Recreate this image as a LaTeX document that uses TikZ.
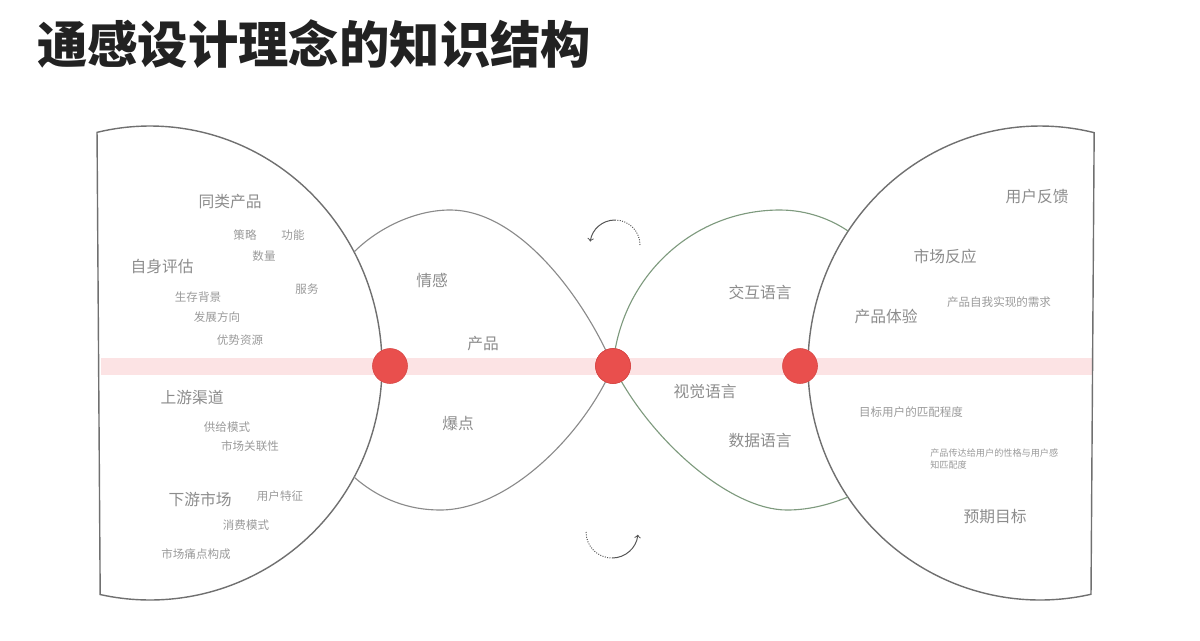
\documentclass[tikz,border=0pt]{standalone}
\usepackage{fontspec}
\setmainfont{Noto Sans CJK SC}

\definecolor{framegray}{HTML}{707070}
\definecolor{lensgray}{HTML}{8A8A8A}
\definecolor{lensgreen}{HTML}{7E9A7E}
\definecolor{labelgray}{HTML}{8C8C8C}
\definecolor{smallgray}{HTML}{9A9A9A}
\definecolor{bandpink}{HTML}{FCE3E4}
\definecolor{dotred}{HTML}{E94F4D}
\definecolor{titleblack}{HTML}{222222}

\begin{document}
\begin{tikzpicture}[x=0.025cm, y=-0.025cm,
    frame/.style={draw=framegray, line width=1pt},
    lens/.style={draw=lensgray, line width=0.8pt},
    lensright/.style={draw=lensgreen, line width=0.8pt},
    reddot/.style={circle, fill=dotred, draw={rgb,255:red,214;green,70;blue,68}, line width=0.4pt, minimum size=0.875cm, inner sep=0pt},
    biglabel/.style={text=labelgray, inner sep=0pt, font=\fontsize{11.2}{13}\selectfont},
    midlabel/.style={text=smallgray, inner sep=0pt, font=\fontsize{8.2}{10}\selectfont},
    tinylabel/.style={text=smallgray, inner sep=0pt, align=left, font=\fontsize{6.5}{9.2}\selectfont},
    turn/.style={draw={rgb,255:red,85;green,85;blue,85}, line width=0.7pt}]

    % Fix the page size
    \useasboundingbox (0,0) rectangle (1200,640);

    % Define coordinates
    \coordinate (jLT) at (354,252);
    \coordinate (jLB) at (354,477);
    \coordinate (jRT) at (848,231);
    \coordinate (jRB) at (848,497);
    \coordinate (rotTop) at (615,245);
    \coordinate (rotBot) at (612,532);

    % Title
    \node[anchor=west, inner sep=0pt, text=titleblack, font=\fontsize{35.8}{40}\selectfont\bfseries] (title) at (37,44) {通感设计理念的知识结构};

    % Pink band behind the dots
    \fill[bandpink] (101,358) rectangle (1092,375);

    % Draw the two big side shapes
    \draw[frame] ([shift={(-103.2:232 and 240)}]150,366) arc[start angle=-103.2, end angle=0, x radius=232, y radius=240]
        arc[start angle=0, end angle=102.4, x radius=232, y radius=234] -- cycle;
    \draw[frame] ([shift={(77.3:232 and 234)}]1040,366) arc[start angle=77.3, end angle=180, x radius=232, y radius=234]
        arc[start angle=180, end angle=283.5, x radius=232, y radius=240] -- cycle;

    % Red dots on the band
    \node[reddot] (dotL) at (390,366) {};
    \node[reddot] (dotM) at (613,366) {};
    \node[reddot] (dotR) at (800,366) {};

    % Draw the crossing lens curves, then the middle dot again on top
    \draw[lens] (jLT) .. controls (378,228) and (415,210) .. (450,210) .. controls (520,210) and (585,300) .. (dotM.center);
    \draw[lens] (jLB) .. controls (380,500) and (410,510) .. (440,510) .. controls (510,510) and (585,432) .. (dotM.center);
    \draw[lensright] (dotM.center) .. controls (650,440) and (730,510) .. (787,510) .. controls (812,510) and (833,503) .. (jRB);
    \draw[lensright] (dotM.center) .. controls (620,280) and (690,210) .. (780,210) .. controls (808,210) and (832,220) .. (jRT);
    \node[reddot] (dotMtop) at (dotM) {};

    % Turning arrows above and below the middle dot
    \draw[turn, densely dotted] ([shift={(0:25)}]rotTop) arc[start angle=0, end angle=-90, radius=25];
    \draw[turn, ->] ([shift={(-90:25)}]rotTop) arc[start angle=-90, end angle=-172, radius=25];
    \draw[turn, densely dotted] ([shift={(180:26)}]rotBot) arc[start angle=180, end angle=90, radius=26];
    \draw[turn, ->] ([shift={(90:26)}]rotBot) arc[start angle=90, end angle=6, radius=26];

    % Left side labels
    \node[biglabel] (tonglei) at (230,202) {同类产品};
    \node[midlabel] (celue) at (245,235) {策略};
    \node[midlabel] (gongneng) at (293,235) {功能};
    \node[midlabel] (shuliang) at (264,256) {数量};
    \node[biglabel] (ziwo) at (162,267) {自身评估};
    \node[midlabel] (fuwu) at (307,289) {服务};
    \node[midlabel] (beijing) at (198,297) {生存背景};
    \node[midlabel] (fangxiang) at (217,317) {发展方向};
    \node[midlabel] (ziyuan) at (240,340) {优势资源};
    \node[biglabel] (shangyou) at (192,397) {上游渠道};
    \node[midlabel] (gongji) at (227,427) {供给模式};
    \node[midlabel] (guanlian) at (250,446) {市场关联性};
    \node[biglabel] (xiayou) at (200,499) {下游市场};
    \node[midlabel] (tezheng) at (280,496) {用户特征};
    \node[midlabel] (xiaofei) at (246,525) {消费模式};
    \node[midlabel] (tongdian) at (196,554) {市场痛点构成};

    % Middle labels
    \node[biglabel] (qinggan) at (432,280) {情感};
    \node[biglabel] (chanpin) at (483,344) {产品};
    \node[biglabel] (baodian) at (458,424) {爆点};
    \node[biglabel] (jiaohu) at (760,292) {交互语言};
    \node[biglabel] (shijue) at (705,392) {视觉语言};
    \node[biglabel] (shuju) at (760,441) {数据语言};

    % Right side labels
    \node[biglabel] (fankui) at (1037,197) {用户反馈};
    \node[biglabel] (fanying) at (945,256) {市场反应};
    \node[midlabel] (xuqiu) at (999,302) {产品自我实现的需求};
    \node[biglabel] (tiyan) at (886,317) {产品体验};
    \node[midlabel] (pipei) at (911,412) {目标用户的匹配程度};
    \node[tinylabel, anchor=west] (xingge) at (930,459) {产品传达给用户的性格与用户感\\知匹配度};
    \node[biglabel] (mubiao) at (995,517) {预期目标};

\end{tikzpicture}
\end{document}
